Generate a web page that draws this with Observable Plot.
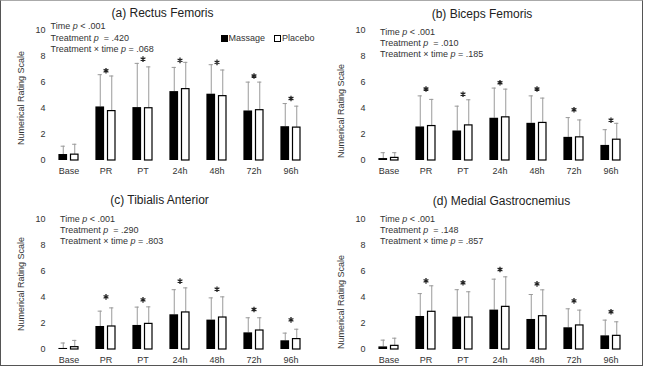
<!DOCTYPE html>
<html><head><meta charset="utf-8">
<script src="https://cdn.jsdelivr.net/npm/d3@7"></script>
<script src="https://cdn.jsdelivr.net/npm/@observablehq/plot@0.6"></script>
<style>
body{margin:0;background:#fff;font-family:"Liberation Sans",Arial,sans-serif;}
#wrap{position:relative;width:646px;height:370px;overflow:hidden;}
#frame{position:absolute;left:0;top:0;width:641px;height:364px;border:1.5px solid #555;border-top-color:#aaa;}
.abs{position:absolute;white-space:nowrap;color:#222;}
.svgbox{position:absolute;}
.title{font-size:12px;transform:translate(-50%,-50%);}
.stats{font-size:9px;line-height:11.3px;color:#333;}
.ylab{font-size:9px;color:#333;transform:translate(-50%,-50%) rotate(-90deg);}
.leg{font-size:9px;color:#333;transform:translateY(-50%);display:flex;align-items:center;}
.sq{display:inline-block;width:5px;height:5px;border:1px solid #000;margin-right:1px;}
</style></head>
<body>
<div id="wrap"><div id="frame"></div></div>
<script>
const times = ["Base","PR","PT","24h","48h","72h","96h"];
const yTicks = [0,2,4,6,8,10];

// (a) Rectus Femoris
const rfMassage      = [0.46,4.12,4.07,5.30,5.10,3.81,2.60];
const rfMassageUpper = [1.10,6.60,7.47,7.16,7.37,6.03,4.38];
const rfPlacebo      = [0.45,3.80,4.02,5.49,4.95,3.87,2.53];
const rfPlaceboUpper = [1.25,6.50,7.20,7.55,6.96,6.03,4.18];
const rfStar         = [null,6.90,7.80,7.70,7.55,6.50,4.77];

// (b) Biceps Femoris
const bfMassage      = [0.15,2.58,2.27,3.25,2.86,1.78,1.16];
const bfMassageUpper = [0.60,4.97,4.18,5.57,4.97,3.30,2.37];
const bfPlacebo      = [0.20,2.65,2.70,3.32,2.89,1.78,1.60];
const bfPlaceboUpper = [0.60,4.70,4.67,5.49,4.80,3.12,2.86];
const bfStar         = [null,5.50,5.10,5.98,5.50,3.90,3.10];

// (c) Tibialis Anterior
const taMassage      = [0.08,1.77,1.85,2.67,2.26,1.28,0.67];
const taMassageUpper = [0.50,2.95,3.26,4.60,3.97,2.44,1.26];
const taPlacebo      = [0.18,1.77,1.97,2.85,2.46,1.46,0.80];
const taPlaceboUpper = [0.70,3.20,3.28,4.74,4.05,2.44,1.56];
const taStar         = [null,4.05,3.82,5.26,4.64,3.08,2.28];

// (d) Medial Gastrocnemius
const mgMassage      = [0.20,2.54,2.49,3.03,2.31,1.67,1.05];
const mgMassageUpper = [0.72,4.30,4.60,5.41,4.23,3.13,2.26];
const mgPlacebo      = [0.28,2.90,2.46,3.28,2.56,1.85,1.05];
const mgPlaceboUpper = [0.87,4.90,4.44,5.59,4.59,3.03,2.13];
const mgStar         = [null,5.28,5.13,6.15,5.05,3.74,2.90];

const titles = ["(a) Rectus Femoris","(b) Biceps Femoris","(c) Tibialis Anterior","(d) Medial Gastrocnemius"];
const statsTime = ["< .001","< .001","< .001","< .001"];
const statsTreatment = [".420",".010",".290",".148"];
const statsInteraction = [".068",".185",".803",".857"];
const yLabel = "Numerical Rating Scale";

function panel(m, mu, p, pu, star){
  const rows = times.map((t,i)=>({t, m:m[i], mu:mu[i], p:p[i], pu:pu[i], s:star[i]}));
  const off = 5.75, inset = 14.15, capInset = 16.4;
  return Plot.plot({
    width:320, height:165, marginLeft:49, marginRight:10, marginTop:10, marginBottom:25,
    style:{fontFamily:"Liberation Sans, Arial, sans-serif", fontSize:"9px", background:"transparent", color:"#333"},
    x:{domain:times, padding:0},
    y:{domain:[0,10]},
    marks:[
      Plot.ruleX(rows,{x:"t", y1:"m", y2:"mu", dx:-off, stroke:"#9a9a9a", strokeWidth:1}),
      Plot.tickY(rows,{x:"t", y:"mu", dx:-off, insetLeft:capInset, insetRight:capInset, stroke:"#9a9a9a", strokeWidth:1}),
      Plot.ruleX(rows,{x:"t", y1:"p", y2:"pu", dx:off, stroke:"#9a9a9a", strokeWidth:1}),
      Plot.tickY(rows,{x:"t", y:"pu", dx:off, insetLeft:capInset, insetRight:capInset, stroke:"#9a9a9a", strokeWidth:1}),
      Plot.barY(rows,{x:"t", y:"m", dx:-off, insetLeft:inset, insetRight:inset, fill:"#000"}),
      Plot.barY(rows,{x:"t", y:"p", dx:off, insetLeft:inset+0.6, insetRight:inset+0.6, fill:"#fff", stroke:"#000", strokeWidth:1.2}),
      Plot.dot(rows.filter(d=>d.s!=null),{x:"t", y:"s", symbol:"asterisk", r:2.6, stroke:"#222", strokeWidth:1.3}),
      Plot.axisY({ticks:yTicks, tickSize:0, tickPadding:4, label:null, line:true, stroke:"#8a8a8a", fill:"#333"}),
      Plot.axisX({tickSize:0, tickPadding:7, label:null, line:true, stroke:"#8a8a8a", fill:"#333"})
    ]
  });
}

const wrap = document.getElementById("wrap");
function add(el, cls, left, top, html){
  const d = document.createElement("div");
  d.className = cls; d.style.left = left+"px"; d.style.top = top+"px";
  if (html != null) d.innerHTML = html;
  if (el) d.appendChild(el);
  wrap.appendChild(d);
  return d;
}

const data = [
  [rfMassage, rfMassageUpper, rfPlacebo, rfPlaceboUpper, rfStar],
  [bfMassage, bfMassageUpper, bfPlacebo, bfPlaceboUpper, bfStar],
  [taMassage, taMassageUpper, taPlacebo, taPlaceboUpper, taStar],
  [mgMassage, mgMassageUpper, mgPlacebo, mgPlaceboUpper, mgStar]
];
const svgPos = [[0,20],[320,20],[0,209.3],[320,209.3]];
const titlePos = [[162.5,12.5],[482,14],[159.5,200],[501.5,201]];
const statsPos = [[50.5,21.3],[380,26.8],[60,213.8],[380,213.8]];
const ylabPos = [[20.7,98.3],[340.7,111],[20.7,284],[340.7,302]];

data.forEach((d,i)=>{
  add(panel(...d), "svgbox", svgPos[i][0], svgPos[i][1]);
  add(null, "abs title", titlePos[i][0], titlePos[i][1], titles[i]);
  add(null, "abs stats", statsPos[i][0], statsPos[i][1],
    `Time <i>p</i> ${statsTime[i]}<br>Treatment <i>p</i>&nbsp; = ${statsTreatment[i]}<br>Treatment × time <i>p</i> = ${statsInteraction[i]}`);
  add(null, "abs ylab", ylabPos[i][0], ylabPos[i][1], yLabel);
});

const legendNames = ["Massage","Placebo"];
add(null, "abs leg", 220.5, 38,
  `<span class="sq" style="background:#000"></span>${legendNames[0]}<span style="display:inline-block;width:9px"></span><span class="sq" style="background:#fff"></span>${legendNames[1]}`);
</script>
</body></html>
